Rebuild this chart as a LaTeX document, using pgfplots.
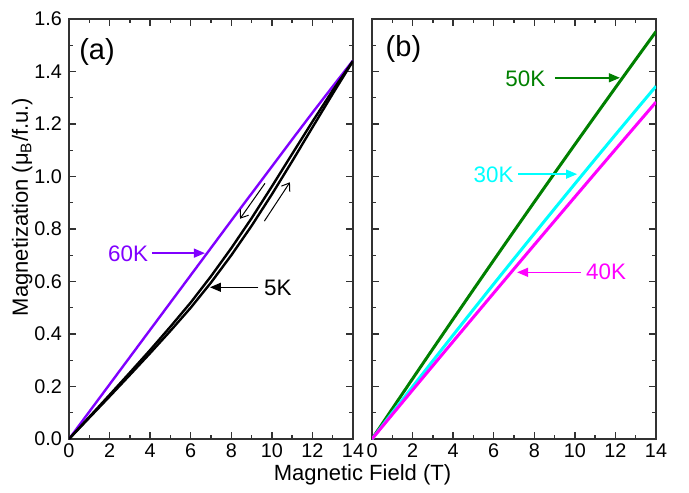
\documentclass[border=0pt]{standalone}
\usepackage{fontspec}
\setmainfont{Liberation Sans}
\usepackage{pgfplots}
\pgfplotsset{compat=1.18}
\usepackage{pgfplotstable}
\usetikzlibrary{arrows.meta}

\definecolor{c60}{RGB}{128,0,255}
\definecolor{c50}{RGB}{0,128,0}
\definecolor{c30}{RGB}{0,255,255}
\definecolor{c40}{RGB}{255,0,255}
\definecolor{axgray}{RGB}{50,50,50}

\newcommand\annfont{\fontsize{11.2}{13}\selectfont}
\newcommand\labfont{\fontsize{11}{13}\selectfont}

% panel (a)
\pgfplotstableread{
H M
0 0
1 0.104
2 0.208
3 0.312
4 0.416
5 0.520
6 0.624
7 0.728
8 0.832
9 0.935
10 1.038
11 1.141
12 1.243
13 1.343
14 1.442
}\tabSixty

\pgfplotstableread{
H M
0 0
1 0.081
2 0.162
3 0.244
4 0.327
5 0.412
6 0.500
7 0.596
8 0.700
9 0.812
10 0.932
11 1.058
12 1.187
13 1.315
14 1.440
}\tabFiveUp

\pgfplotstableread{
H M
0 0
1 0.084
2 0.168
3 0.253
4 0.339
5 0.428
6 0.520
7 0.620
8 0.727
9 0.841
10 0.962
11 1.086
12 1.209
13 1.328
14 1.440
}\tabFiveDown

% panel (b)
\pgfplotstableread{
H M
0 0
1 0.1152
2 0.2297
3 0.3435
4 0.4567
5 0.5692
6 0.6811
7 0.7923
8 0.9029
9 1.0128
10 1.1220
11 1.2306
12 1.3385
13 1.4457
14 1.5523
}\tabFifty

\pgfplotstableread{
H M
0 0
1 0.0999
2 0.1992
3 0.2979
4 0.3960
5 0.4935
6 0.5904
7 0.6867
8 0.7824
9 0.8775
10 0.9720
11 1.0659
12 1.1592
13 1.2519
14 1.3440
}\tabThirty

\pgfplotstableread{
H M
0 0
1 0.0934
2 0.1865
3 0.2793
4 0.3719
5 0.4642
6 0.5563
7 0.6481
8 0.7397
9 0.8310
10 0.9220
11 1.0128
12 1.1033
13 1.1935
14 1.2835
}\tabForty

\pgfplotsset{
  mpanel/.style={
    scale only axis, width=142pt, height=210pt,
    xmin=0, xmax=14, ymin=0, ymax=1.6,
    xtick={0,2,4,6,8,10,12,14},
    ytick={0,0.2,0.4,0.6,0.8,1.0,1.2,1.4,1.6},
    minor x tick num=1, minor y tick num=1,
    tick align=inside, tick pos=both,
    major tick length=3.5pt, minor tick length=2pt,
    axis line style={line width=0.8pt, axgray},
    every tick/.style={line width=0.7pt, axgray},
    tick label style={font=\fontsize{9.9}{11}\selectfont},
    xticklabel style={yshift=1pt},
    /pgf/number format/assume math mode=true,
  }
}

\begin{document}
\begin{tikzpicture}
\begin{axis}[mpanel, name=a, at={(0,0)}, anchor=south west,
    yticklabel style={/pgf/number format/.cd, fixed, fixed zerofill, precision=1}]
\addplot[c60, line width=1.2pt] table {\tabSixty};
\addplot[black, line width=1.2pt] table {\tabFiveUp};
\addplot[black, line width=1.2pt] table {\tabFiveDown};
\node[font=\fontsize{14.5}{16}\selectfont] at (axis cs:1.38,1.476) {(a)};
\node[c60, font=\annfont] at (axis cs:2.91,0.707) {60K};
\draw[c60, line width=0.7pt, -{Triangle[length=5.5pt,width=4.5pt]}]
    (axis cs:4.09,0.708) -- (axis cs:6.70,0.708);
\node[black, font=\annfont] at (axis cs:10.3,0.577) {5K};
\draw[black, line width=0.7pt, -{Triangle[length=5.5pt,width=4.5pt]}]
    (axis cs:9.34,0.578) -- (axis cs:6.95,0.578);
\draw[black, line width=0.5pt, -{Straight Barb[length=3.5pt,width=5pt]}]
    (axis cs:9.66,0.974) -- (axis cs:8.43,0.839);
\draw[black, line width=0.5pt, -{Straight Barb[length=3.5pt,width=5pt]}]
    (axis cs:9.63,0.830) -- (axis cs:10.89,0.978);
\end{axis}

\begin{axis}[mpanel, name=b, at={(151.5pt,0)}, anchor=south west,
    yticklabels={}]
\addplot[c50, line width=1.5pt] table {\tabFifty};
\addplot[c30, line width=1.5pt] table {\tabThirty};
\addplot[c40, line width=1.5pt] table {\tabForty};
\node[font=\fontsize{14.5}{16}\selectfont] at (axis cs:1.55,1.484) {(b)};
\node[c50, font=\annfont] at (axis cs:7.56,1.374) {50K};
\draw[c50, line width=0.7pt, -{Triangle[length=5.5pt,width=4.5pt]}]
    (axis cs:9.01,1.376) -- (axis cs:12.22,1.376);
\node[c30, font=\annfont] at (axis cs:5.99,1.008) {30K};
\draw[c30, line width=0.7pt, -{Triangle[length=5.5pt,width=4.5pt]}]
    (axis cs:7.2,1.009) -- (axis cs:10.11,1.009);
\node[c40, font=\annfont] at (axis cs:11.54,0.637) {40K};
\draw[c40, line width=0.7pt, -{Triangle[length=5.5pt,width=4.5pt]}]
    (axis cs:10.28,0.635) -- (axis cs:7.15,0.635);
\end{axis}

\node[font=\labfont, anchor=base] at ([xshift=4.75pt,yshift=-20.9pt]a.south east)
    {Magnetic Field (T)};
\node[font=\labfont, anchor=base, rotate=90] at ([xshift=-20.5pt,yshift=11pt]a.west)
    {Magnetization (μ\textsubscript{B}/f.u.)};
\path (-34.5pt,-23pt) rectangle (310pt,219.5pt);
\end{tikzpicture}
\end{document}
